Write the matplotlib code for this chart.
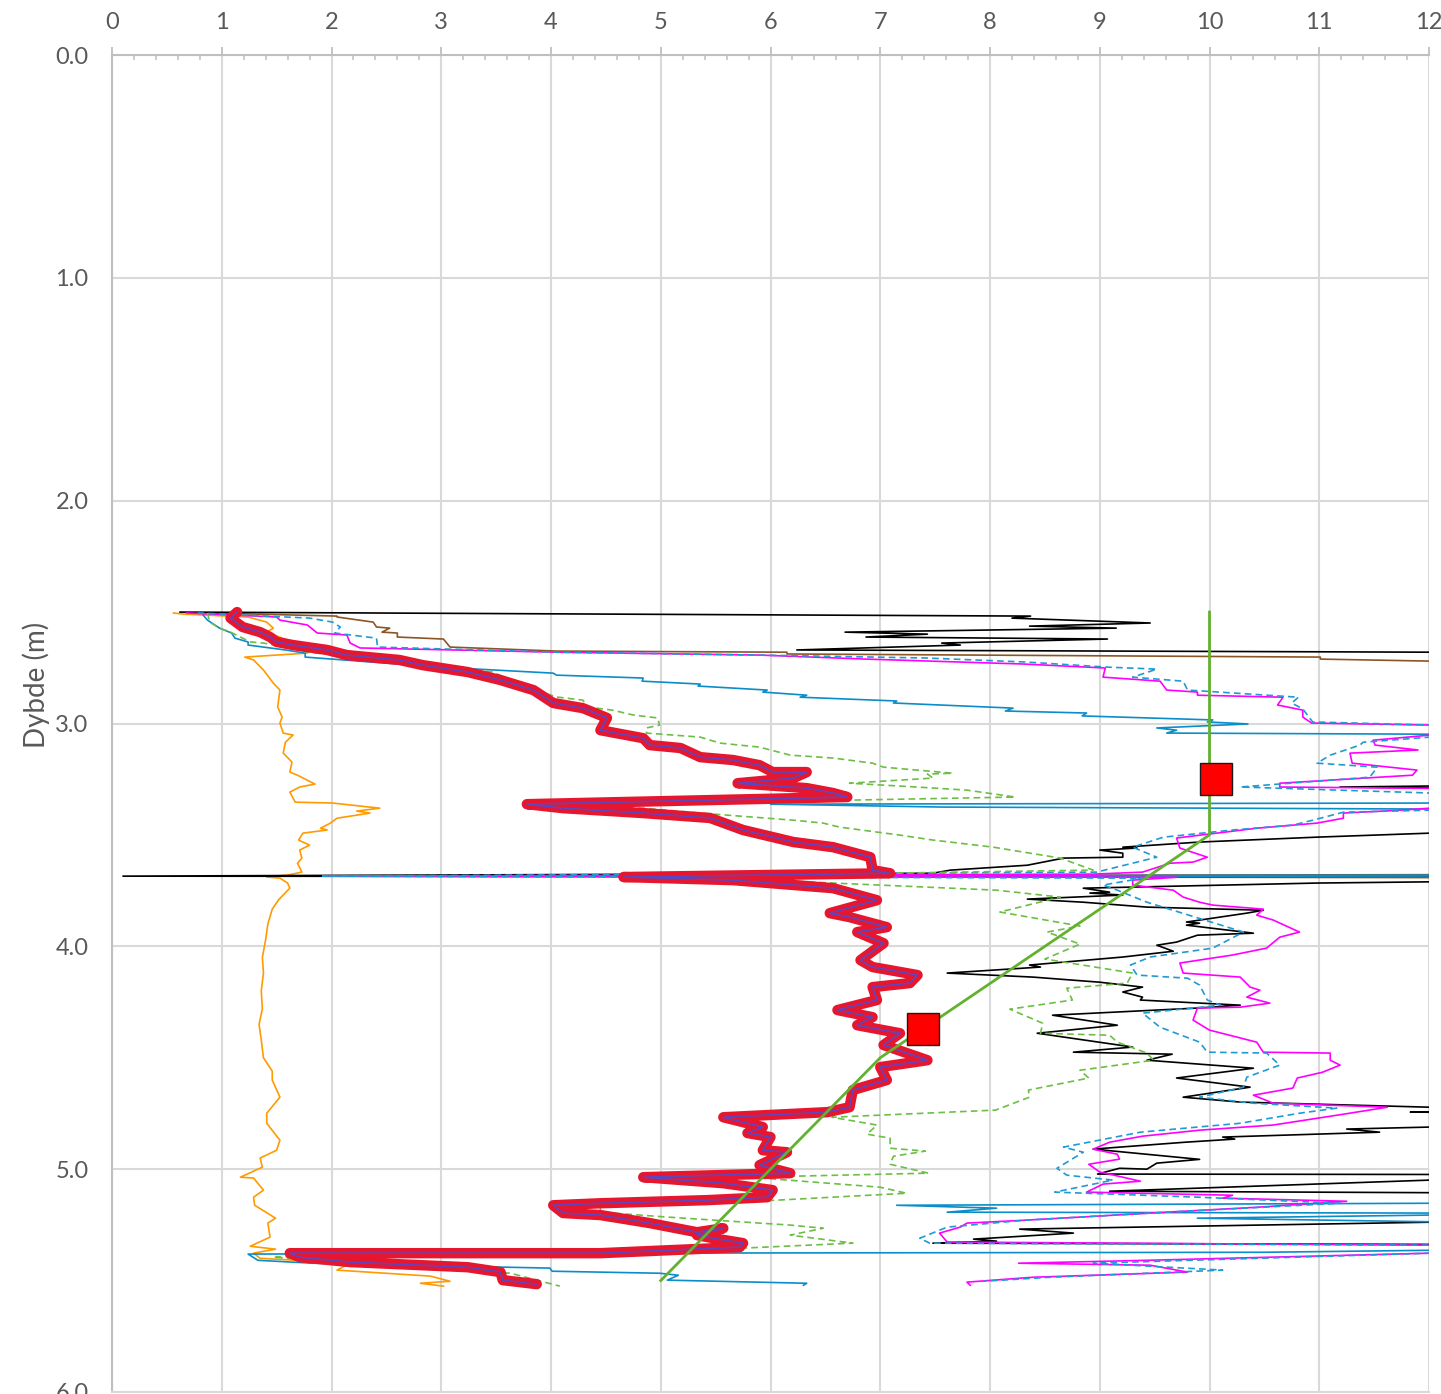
import numpy as np
import matplotlib
matplotlib.use("Agg")
import matplotlib.pyplot as plt

# ---- data: (value, depth m) pairs per sounding; values > 12 run past the axis ----
red_main = [
    (1.14, 2.500), (1.08, 2.527), (1.19, 2.567), (1.35, 2.590), (1.44, 2.612), (1.50, 2.634),
    (1.65, 2.648), (1.96, 2.670), (2.14, 2.693), (2.62, 2.715), (2.83, 2.738), (3.24, 2.769),
    (3.54, 2.805), (3.84, 2.850), (4.02, 2.908), (4.29, 2.931), (4.51, 2.975), (4.45, 3.030),
    (4.84, 3.066), (4.90, 3.097), (5.18, 3.110), (5.36, 3.151), (5.66, 3.164), (5.90, 3.187),
    (6.02, 3.218), (6.33, 3.218), (6.21, 3.245), (5.70, 3.268), (6.33, 3.290), (6.57, 3.312),
    (6.70, 3.330), (3.78, 3.362), (4.11, 3.380), (4.84, 3.402), (5.45, 3.424), (5.75, 3.478),
    (6.21, 3.532), (6.57, 3.555), (6.91, 3.600), (6.93, 3.658), (7.09, 3.672), (4.66, 3.689),
    (5.66, 3.703), (6.57, 3.739), (6.97, 3.793), (6.54, 3.851), (6.72, 3.869), (7.06, 3.914),
    (6.79, 3.936), (7.03, 3.986), (6.82, 4.062), (6.93, 4.093), (7.34, 4.129), (7.27, 4.165),
    (6.93, 4.183), (6.97, 4.241), (6.61, 4.286), (6.93, 4.318), (6.79, 4.354), (7.18, 4.390),
    (7.03, 4.443), (7.43, 4.511), (7.00, 4.542), (7.06, 4.600), (6.75, 4.645), (6.72, 4.722),
    (6.52, 4.744), (5.57, 4.767), (5.93, 4.811), (5.79, 4.838), (6.00, 4.856), (5.93, 4.915),
    (6.15, 4.924), (5.90, 4.982), (6.18, 5.018), (4.84, 5.036), (5.57, 5.063), (6.02, 5.094),
    (5.97, 5.126), (5.42, 5.139), (4.45, 5.153), (4.02, 5.162), (4.11, 5.197), (4.45, 5.206),
    (4.90, 5.242), (5.33, 5.283), (5.57, 5.265), (5.33, 5.296), (5.48, 5.310), (5.75, 5.332),
    (5.72, 5.350), (4.45, 5.377), (1.62, 5.377), (1.71, 5.395), (2.17, 5.417), (3.24, 5.440),
    (3.54, 5.462), (3.56, 5.498), (3.87, 5.516),
]

orange = [
    (0.56, 2.504), (0.65, 2.509), (1.24, 2.522), (1.41, 2.545), (1.47, 2.572), (1.41, 2.590),
    (1.60, 2.626), (1.65, 2.648), (1.78, 2.684), (1.21, 2.702), (1.29, 2.715), (1.38, 2.760),
    (1.47, 2.819), (1.53, 2.850), (1.51, 2.926), (1.55, 2.971), (1.53, 2.998), (1.56, 3.043),
    (1.65, 3.052), (1.58, 3.084), (1.56, 3.133), (1.64, 3.173), (1.62, 3.218), (1.69, 3.232),
    (1.85, 3.272), (1.71, 3.285), (1.62, 3.308), (1.67, 3.353), (2.01, 3.357), (2.44, 3.380),
    (2.23, 3.393), (2.35, 3.402), (2.05, 3.425), (1.99, 3.447), (1.90, 3.470), (1.96, 3.478),
    (1.74, 3.492), (1.70, 3.523), (1.80, 3.546), (1.71, 3.568), (1.73, 3.604), (1.69, 3.627),
    (1.73, 3.667), (1.60, 3.680), (1.41, 3.689), (1.53, 3.694), (1.60, 3.716), (1.62, 3.739),
    (1.52, 3.790), (1.46, 3.833), (1.42, 3.900), (1.40, 3.970), (1.37, 4.050), (1.38, 4.120),
    (1.36, 4.200), (1.37, 4.280), (1.34, 4.350), (1.36, 4.420), (1.38, 4.500), (1.46, 4.560),
    (1.46, 4.600), (1.53, 4.677), (1.41, 4.749), (1.41, 4.794), (1.53, 4.870), (1.50, 4.915),
    (1.35, 4.950), (1.37, 4.991), (1.17, 5.036), (1.29, 5.040), (1.38, 5.094), (1.29, 5.126),
    (1.30, 5.162), (1.49, 5.220), (1.42, 5.242), (1.44, 5.305), (1.26, 5.346), (1.49, 5.359),
    (1.29, 5.377), (1.35, 5.400), (2.17, 5.422), (2.05, 5.453), (2.90, 5.480), (3.08, 5.503),
    (2.81, 5.512), (3.02, 5.525),
]

black = [
    (0.62, 2.500), (8.37, 2.518), (8.20, 2.527), (9.46, 2.549), (8.36, 2.563), (9.15, 2.572),
    (6.68, 2.590), (7.43, 2.599), (6.87, 2.612), (9.07, 2.621), (7.56, 2.639), (7.73, 2.648),
    (6.24, 2.670), (12.01, 2.680), (14.0, 2.690), (14.0, 3.270), (11.19, 3.285), (14.0, 3.300),
    (14.0, 3.480), (12.01, 3.492), (10.98, 3.510), (9.91, 3.532), (9.21, 3.555), (9.34, 3.559),
    (9.00, 3.568), (9.21, 3.582), (9.21, 3.600), (8.67, 3.604), (8.34, 3.636), (7.64, 3.658),
    (7.48, 3.672), (0.10, 3.685), (14.0, 3.690), (14.0, 3.700), (10.98, 3.716), (8.85, 3.739),
    (9.09, 3.757), (8.91, 3.761), (9.21, 3.770), (8.34, 3.788), (8.85, 3.802), (9.43, 3.824),
    (10.49, 3.838), (10.34, 3.851), (9.79, 3.891), (9.91, 3.896), (9.79, 3.905), (10.40, 3.941),
    (9.89, 3.950), (9.70, 3.981), (9.52, 3.995), (9.67, 4.022), (9.21, 4.048), (8.88, 4.062),
    (8.36, 4.084), (8.46, 4.093), (7.61, 4.120), (8.39, 4.138), (9.00, 4.161), (9.39, 4.183),
    (9.21, 4.205), (9.39, 4.228), (9.37, 4.241), (10.28, 4.264), (9.89, 4.277), (8.57, 4.309),
    (9.16, 4.354), (8.43, 4.390), (9.30, 4.452), (8.76, 4.475), (9.66, 4.484), (9.43, 4.511),
    (10.40, 4.547), (9.70, 4.591), (10.37, 4.632), (9.76, 4.677), (10.28, 4.699), (12.01, 4.722),
    (14.0, 4.725), (11.83, 4.744), (14.0, 4.750), (14.0, 4.805), (12.01, 4.811), (11.25, 4.820),
    (11.55, 4.834), (10.12, 4.856), (10.23, 4.865), (9.78, 4.879), (8.94, 4.910), (9.91, 4.956),
    (9.52, 4.973), (9.43, 5.000), (9.18, 4.996), (8.98, 5.022), (14.0, 5.025), (14.0, 5.045),
    (12.01, 5.049), (9.09, 5.099), (14.0, 5.110), (14.0, 5.230), (12.01, 5.238), (8.27, 5.269),
    (8.76, 5.287), (7.85, 5.314), (8.06, 5.323), (7.48, 5.332), (14.0, 5.340),
]

magenta = [
    (0.68, 2.504), (1.50, 2.522), (1.53, 2.536), (1.78, 2.558), (1.87, 2.594), (2.14, 2.603),
    (2.17, 2.639), (2.26, 2.661), (4.05, 2.680), (5.90, 2.693), (6.87, 2.711), (8.30, 2.733),
    (9.05, 2.751), (9.03, 2.792), (9.55, 2.810), (9.61, 2.850), (9.89, 2.859), (9.89, 2.873),
    (10.67, 2.882), (10.62, 2.917), (10.85, 2.940), (10.85, 2.971), (10.93, 2.998), (12.01, 3.007),
    (14.0, 3.010), (14.0, 3.050), (12.01, 3.052), (11.49, 3.075), (11.51, 3.097), (11.90, 3.119),
    (11.28, 3.133), (11.30, 3.178), (11.89, 3.209), (11.85, 3.232), (10.64, 3.268), (10.64, 3.285),
    (14.0, 3.300), (14.0, 3.375), (12.01, 3.380), (11.74, 3.389), (11.22, 3.402), (11.22, 3.425),
    (10.98, 3.447), (10.43, 3.470), (9.70, 3.514), (9.73, 3.559), (9.98, 3.600), (9.85, 3.622),
    (9.64, 3.627), (9.39, 3.667), (8.94, 3.676), (1.92, 3.685), (9.70, 3.690), (9.30, 3.703),
    (9.30, 3.725), (9.67, 3.748), (9.76, 3.779), (9.91, 3.802), (10.03, 3.815), (10.49, 3.833),
    (10.43, 3.860), (10.58, 3.882), (10.82, 3.936), (10.64, 3.959), (10.52, 4.008), (10.21, 4.039),
    (9.73, 4.075), (9.76, 4.120), (10.28, 4.138), (10.37, 4.183), (10.46, 4.197), (10.34, 4.228),
    (10.55, 4.255), (10.28, 4.273), (9.89, 4.277), (9.85, 4.331), (10.00, 4.376), (10.43, 4.430),
    (10.49, 4.475), (11.10, 4.479), (11.10, 4.511), (11.19, 4.533), (11.03, 4.565), (10.80, 4.591),
    (10.76, 4.636), (10.40, 4.668), (10.58, 4.704), (11.62, 4.722), (11.16, 4.758), (10.58, 4.802),
    (9.91, 4.825), (9.39, 4.852), (9.09, 4.879), (8.94, 4.910), (9.16, 4.933), (9.18, 4.955),
    (8.90, 4.978), (9.00, 5.013), (9.21, 5.036), (9.37, 5.054), (9.03, 5.067), (8.88, 5.103),
    (10.21, 5.117), (10.12, 5.130), (11.25, 5.144), (10.43, 5.171), (9.61, 5.193), (8.32, 5.229),
    (7.79, 5.242), (7.73, 5.260), (7.54, 5.287), (7.61, 5.327), (12.01, 5.341), (14.0, 5.345),
    (14.0, 5.372), (12.01, 5.377), (9.43, 5.409), (8.26, 5.422), (9.46, 5.431), (9.80, 5.462),
    (8.39, 5.485), (7.79, 5.507), (7.82, 5.521),
]

blue_dashed = [
    (0.78, 2.504), (1.80, 2.527), (2.01, 2.545), (2.08, 2.567), (2.03, 2.594), (2.41, 2.617),
    (2.42, 2.657), (4.05, 2.680), (5.90, 2.693), (7.41, 2.706), (8.32, 2.724), (9.07, 2.747),
    (9.52, 2.756), (9.30, 2.792), (9.76, 2.810), (9.80, 2.850), (10.81, 2.882), (10.75, 2.908),
    (10.85, 2.935), (10.94, 2.993), (12.01, 3.007), (14.0, 3.010), (14.0, 3.055), (12.01, 3.061),
    (11.40, 3.084), (11.37, 3.097), (11.10, 3.142), (10.98, 3.178), (11.53, 3.196), (11.46, 3.241),
    (10.28, 3.285), (12.01, 3.312), (14.0, 3.315), (14.0, 3.385), (12.01, 3.389), (11.22, 3.398),
    (10.94, 3.434), (10.76, 3.456), (10.21, 3.478), (9.58, 3.510), (9.30, 3.555), (9.52, 3.600),
    (8.97, 3.667), (1.92, 3.685), (9.39, 3.694), (9.03, 3.725), (9.16, 3.748), (9.43, 3.802),
    (10.31, 3.936), (10.03, 4.008), (9.46, 4.048), (9.28, 4.084), (9.34, 4.129), (9.80, 4.143),
    (9.91, 4.174), (9.98, 4.241), (10.10, 4.264), (9.39, 4.300), (9.55, 4.363), (9.91, 4.430),
    (9.98, 4.475), (10.52, 4.479), (10.64, 4.533), (10.34, 4.587), (10.31, 4.632), (9.91, 4.677),
    (10.40, 4.704), (11.16, 4.726), (10.82, 4.749), (10.28, 4.794), (9.37, 4.834), (8.67, 4.901),
    (8.85, 4.924), (8.73, 4.960), (8.61, 4.996), (8.70, 5.027), (9.12, 5.049), (8.59, 5.103),
    (9.91, 5.126), (10.10, 5.130), (11.19, 5.153), (9.61, 5.193), (8.32, 5.229), (7.61, 5.260),
    (7.36, 5.310), (7.45, 5.332), (12.01, 5.341), (14.0, 5.345), (14.0, 5.372), (12.01, 5.377),
    (8.94, 5.422), (10.12, 5.453), (8.55, 5.485), (7.94, 5.503),
]

blue_solid = [
    (0.83, 2.513), (0.87, 2.536), (0.98, 2.572), (1.09, 2.594), (1.12, 2.617), (1.24, 2.634),
    (1.24, 2.648), (1.58, 2.670), (1.76, 2.684), (1.76, 2.702), (2.99, 2.747), (4.02, 2.774),
    (4.05, 2.783), (4.84, 2.796), (4.83, 2.810), (5.36, 2.823), (5.34, 2.832), (5.97, 2.850),
    (5.93, 2.859), (6.33, 2.873), (6.27, 2.882), (7.15, 2.899), (7.12, 2.908), (8.21, 2.931),
    (8.14, 2.944), (8.88, 2.953), (8.84, 2.966), (10.03, 2.984), (9.98, 2.993), (10.35, 3.002),
    (9.52, 3.020), (9.70, 3.030), (9.61, 3.043), (12.01, 3.048), (14.0, 3.050), (14.0, 3.352),
    (12.01, 3.357), (6.00, 3.362), (7.57, 3.375), (12.01, 3.384), (14.0, 3.386), (14.0, 3.680),
    (1.92, 3.685), (14.0, 3.690), (14.0, 5.150), (12.01, 5.153), (7.15, 5.162), (8.06, 5.175),
    (7.61, 5.193), (12.01, 5.197), (14.0, 5.200), (14.0, 5.204), (12.01, 5.206), (9.89, 5.220),
    (12.01, 5.236), (14.0, 5.240), (14.0, 5.360), (12.01, 5.364), (10.49, 5.373), (4.45, 5.377),
    (1.24, 5.381), (1.33, 5.409), (1.83, 5.422), (3.99, 5.444), (4.01, 5.458), (4.99, 5.467),
    (5.16, 5.476), (5.06, 5.498), (6.33, 5.512), (6.30, 5.521),
]

green_dashed = [
    (0.87, 2.504), (0.89, 2.545), (0.98, 2.572), (1.08, 2.590), (1.19, 2.617), (1.26, 2.634),
    (1.38, 2.639), (1.62, 2.661), (1.78, 2.680), (2.32, 2.706), (2.56, 2.715), (3.47, 2.769),
    (3.78, 2.837), (4.05, 2.881), (4.29, 2.895), (4.33, 2.926), (4.56, 2.940), (4.75, 2.962),
    (4.97, 2.975), (4.99, 3.007), (4.87, 3.020), (4.87, 3.043), (5.36, 3.061), (5.54, 3.088),
    (5.90, 3.106), (6.18, 3.142), (6.57, 3.155), (6.93, 3.178), (7.03, 3.196), (7.66, 3.223),
    (7.43, 3.227), (7.48, 3.245), (6.72, 3.268), (7.33, 3.285), (7.79, 3.299), (8.23, 3.330),
    (4.33, 3.366), (4.84, 3.380), (5.36, 3.402), (6.21, 3.434), (6.48, 3.447), (6.63, 3.465),
    (7.18, 3.501), (7.48, 3.523), (8.03, 3.555), (8.64, 3.604), (8.94, 3.658), (5.20, 3.685),
    (6.57, 3.716), (8.06, 3.748), (8.64, 3.779), (8.09, 3.846), (8.82, 3.909), (8.52, 3.936),
    (8.82, 3.990), (8.50, 4.057), (9.30, 4.120), (9.25, 4.165), (8.70, 4.188), (8.75, 4.241),
    (8.18, 4.282), (8.48, 4.345), (8.46, 4.390), (9.09, 4.399), (9.16, 4.430), (9.43, 4.479),
    (9.49, 4.511), (8.82, 4.556), (8.90, 4.591), (8.35, 4.645), (8.36, 4.677), (8.05, 4.735),
    (6.56, 4.767), (6.97, 4.802), (6.88, 4.843), (7.09, 4.861), (7.09, 4.906), (7.41, 4.919),
    (7.12, 4.942), (7.09, 4.978), (7.44, 5.018), (5.81, 5.036), (7.00, 5.081), (7.24, 5.108),
    (5.72, 5.148), (4.45, 5.162), (4.45, 5.193), (5.06, 5.215), (6.18, 5.251), (6.48, 5.265),
    (6.18, 5.296), (6.75, 5.332), (5.72, 5.355), (4.45, 5.373), (1.47, 5.395), (3.63, 5.467),
    (4.08, 5.525),
]

brown = [
    (0.89, 2.504), (2.05, 2.518), (2.05, 2.522), (2.38, 2.545), (2.41, 2.567), (2.53, 2.572),
    (2.46, 2.590), (2.60, 2.594), (2.60, 2.612), (3.02, 2.621), (3.08, 2.657), (4.05, 2.675),
    (6.15, 2.680), (6.15, 2.688), (11.01, 2.702), (11.01, 2.711), (12.01, 2.720), (14.0, 2.725),
    (14.0, 3.677), (8.50, 3.681), (8.50, 3.689), (14.0, 3.693),
]

# design line (value, depth)
design_val = [10.0, 10.0, 7.0, 5.0]
design_depth = [2.5, 3.5, 4.5, 5.5]

# point results
point_val = [10.06, 7.39]
point_depth = [3.25, 4.37]

x_ticks = list(range(0, 13))
y_ticks = [0.0, 1.0, 2.0, 3.0, 4.0, 5.0, 6.0]
y_label = "Dybde (m)"

# ---- figure ----
plt.rcParams["font.family"] = ["Lato", "DejaVu Sans"]
W, H = 1441, 1394
fig = plt.figure(figsize=(W / 100, H / 100), dpi=100)
ax = fig.add_axes([112 / W, 1 - 1392 / H, (1429 - 112) / W, (1392 - 55) / H])


def draw(series, **kw):
    v, d = zip(*series)
    return ax.plot(v, d, **kw)


thin = 1.2
draw(orange, color="#FF9A00", lw=thin, zorder=3)
draw(brown, color="#8B5524", lw=thin, zorder=3)
draw(black, color="#000000", lw=thin, zorder=3)
draw(blue_solid, color="#0A8DC8", lw=thin, zorder=3)
draw(magenta, color="#FF00FF", lw=thin, zorder=3)
draw(blue_dashed, color="#1F9BD4", lw=thin, dashes=(4, 2.5), zorder=3)
draw(green_dashed, color="#6DBE45", lw=thin, dashes=(4, 2.5), zorder=3)

# main sounding: broad red band with a thin violet core
draw(red_main, color="#E6162F", lw=7.5, solid_joinstyle="round",
     solid_capstyle="round", zorder=4)
draw(red_main, color="#5E46C0", lw=1.2, zorder=5)

ax.plot(design_val, design_depth, color="#62B22F", lw=2.0, zorder=6)
ax.plot(point_val, point_depth, linestyle="none", marker="s", markersize=23,
        markerfacecolor="#FF0000", markeredgecolor="#1A1A1A", markeredgewidth=1.0, zorder=7)

ax.set_xlim(0, 12)
ax.set_ylim(6, 0)
ax.xaxis.tick_top()
ax.set_xticks(x_ticks)
ax.set_xticks(np.arange(0, 12.001, 0.2), minor=True)
ax.set_yticks(y_ticks)
ax.set_yticklabels([f"{t:.1f}" for t in y_ticks])

ax.grid(True, which="major", color="#D9D9D9", lw=1.5, zorder=0)
ax.set_axisbelow(True)

ax.spines["right"].set_visible(False)
for side in ("left", "top", "bottom"):
    ax.spines[side].set_color("#BFBFBF")
    ax.spines[side].set_linewidth(1.5)
ax.spines["bottom"].set_color("#D9D9D9")

ax.tick_params(axis="x", which="major", direction="out", length=5.8, width=1.3,
               color="#BFBFBF", labelsize=17, labelcolor="#595959", pad=10)
ax.tick_params(axis="x", which="minor", direction="in", length=3.6, width=1.1,
               color="#BFBFBF", top=True, bottom=False)
ax.tick_params(axis="y", which="both", length=0, pad=17, labelsize=17, labelcolor="#595959")

ax.set_ylabel(y_label, fontsize=20, color="#595959")
ax.yaxis.set_label_coords(-0.047, 0.529)

fig.savefig("out.png", dpi=100)
